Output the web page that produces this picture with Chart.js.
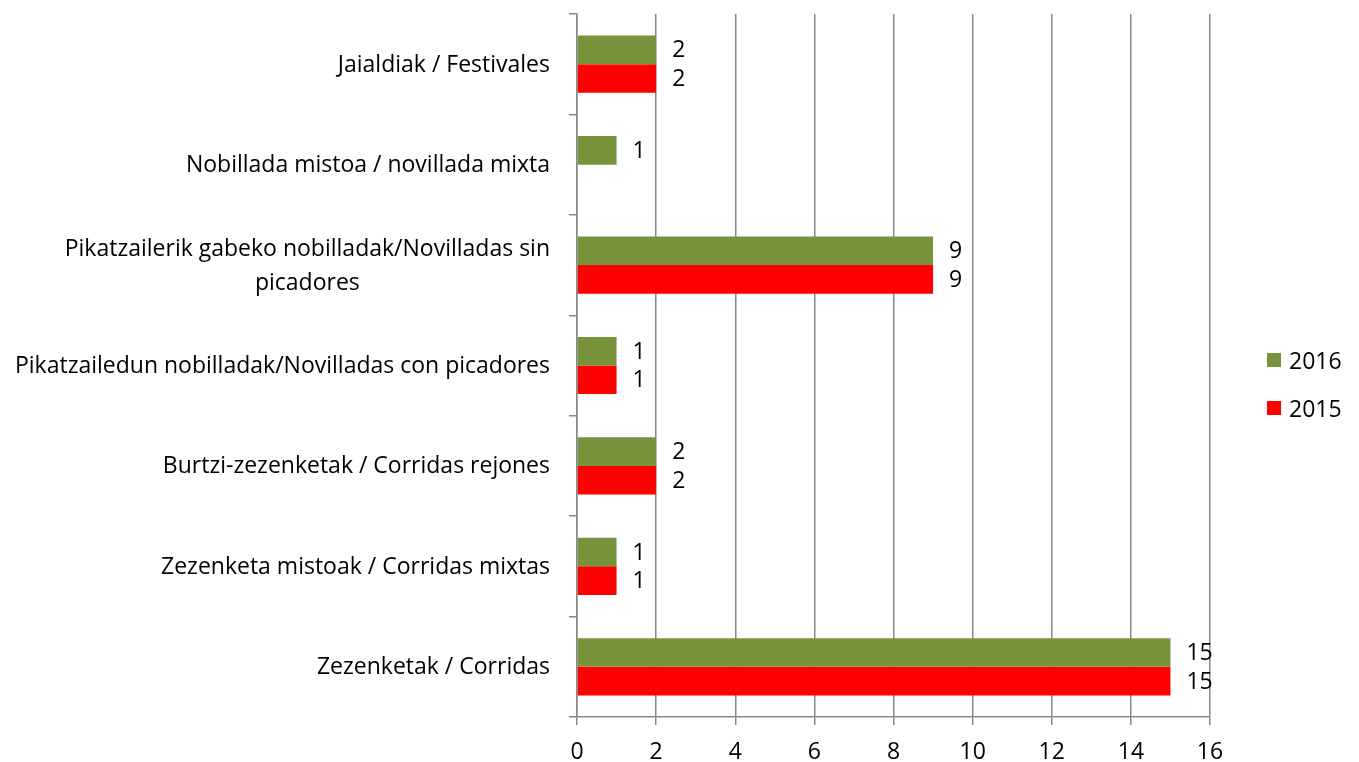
<!DOCTYPE html>
<html>
<head>
<meta charset="utf-8">
<script src="https://cdn.jsdelivr.net/npm/chart.js@4.4.0/dist/chart.umd.min.js"></script>
<style>
  body { margin: 0; background: #fff; }
  #wrap { position: relative; width: 1359px; height: 762px; }
  #legend { position: absolute; left: 1267px; top: 344px; font-family: "Open Sans", sans-serif; font-size: 23px; color: #000; }
  .item { display: flex; align-items: center; height: 31px; margin-bottom: 17px; }
  .box { width: 14px; height: 14px; margin-right: 8px; }
</style>
</head>
<body>
<div id="wrap">
  <canvas id="chart" width="1359" height="762"></canvas>
  <div id="legend"></div>
</div>
<script>
const categories = [
  ["Jaialdiak / Festivales"],
  ["Nobillada mistoa / novillada mixta"],
  ["Pikatzailerik gabeko nobilladak/Novilladas sin", "picadores"],
  ["Pikatzailedun nobilladak/Novilladas con picadores"],
  ["Burtzi-zezenketak / Corridas rejones"],
  ["Zezenketa mistoak / Corridas mixtas"],
  ["Zezenketak / Corridas"]
];
const values2016 = [2, 1, 9, 1, 2, 1, 15];
const values2015 = [2, null, 9, 1, 2, 1, 15];
const xTicks = [0, 2, 4, 6, 8, 10, 12, 14, 16];

const FONT = "'Open Sans', sans-serif";
const SIZE = 23;
const GRID = "#888888";

// category labels drawn right-aligned next to the axis, wrapped lines centred on each other
const categoryLabels = {
  id: "categoryLabels",
  afterDraw(chart) {
    const ctx = chart.ctx;
    const y = chart.scales.y;
    const right = y.right - 27;
    ctx.save();
    ctx.font = SIZE + "px " + FONT;
    ctx.fillStyle = "#000";
    ctx.textBaseline = "middle";
    ctx.textAlign = "center";
    categories.forEach((lines, i) => {
      const cy = y.getPixelForValue(i) + 1;
      const w = Math.max(...lines.map(l => ctx.measureText(l).width));
      const cx = right - w / 2;
      const lh = 34;
      const top = cy - (lines.length - 1) * lh / 2;
      lines.forEach((l, k) => ctx.fillText(l, cx, top + k * lh));
    });
    ctx.restore();
  }
};

// value written just past the end of each bar
const valueLabels = {
  id: "valueLabels",
  afterDatasetsDraw(chart) {
    const ctx = chart.ctx;
    ctx.save();
    ctx.font = SIZE + "px " + FONT;
    ctx.fillStyle = "#000";
    ctx.textBaseline = "middle";
    ctx.textAlign = "left";
    chart.data.datasets.forEach((ds, di) => {
      chart.getDatasetMeta(di).data.forEach((el, i) => {
        const v = ds.data[i];
        if (v === null) return;
        ctx.fillText(String(v), el.x + 16, el.y + 1);
      });
    });
    ctx.restore();
  }
};

const datasets = [
  { label: "2016", data: values2016, backgroundColor: "#77933C" },
  { label: "2015", data: values2015, backgroundColor: "#FF0000" }
];

new Chart(document.getElementById("chart"), {
  type: "bar",
  data: {
    labels: categories.map(c => c.join(" ")),
    datasets: datasets.map(d => Object.assign({ barPercentage: 1, categoryPercentage: 0.57 }, d))
  },
  options: {
    indexAxis: "y",
    responsive: false,
    animation: false,
    layout: { padding: { top: 14, right: 149, bottom: 0, left: 0 } },
    plugins: { legend: { display: false }, tooltip: { enabled: false } },
    scales: {
      x: {
        min: 0,
        max: 16,
        afterBuildTicks(scale) { scale.ticks = xTicks.map(v => ({ value: v })); },
        afterFit(scale) { scale.height = 45; },
        grid: { color: GRID, lineWidth: 1.5, tickLength: 8 },
        border: { color: GRID, width: 1.5 },
        ticks: { font: { family: FONT, size: SIZE }, color: "#000", padding: 14 }
      },
      y: {
        afterFit(scale) { scale.width = 577; },
        grid: { color: GRID, lineWidth: 1.5, offset: true, drawOnChartArea: false, tickLength: 8 },
        border: { color: GRID, width: 1.5 },
        ticks: { display: false }
      }
    }
  },
  plugins: [categoryLabels, valueLabels]
});

const legend = document.getElementById("legend");
datasets.forEach(d => {
  const item = document.createElement("div");
  item.className = "item";
  item.innerHTML = '<span class="box" style="background:' + d.backgroundColor + '"></span>' + d.label;
  legend.appendChild(item);
});
</script>
</body>
</html>
